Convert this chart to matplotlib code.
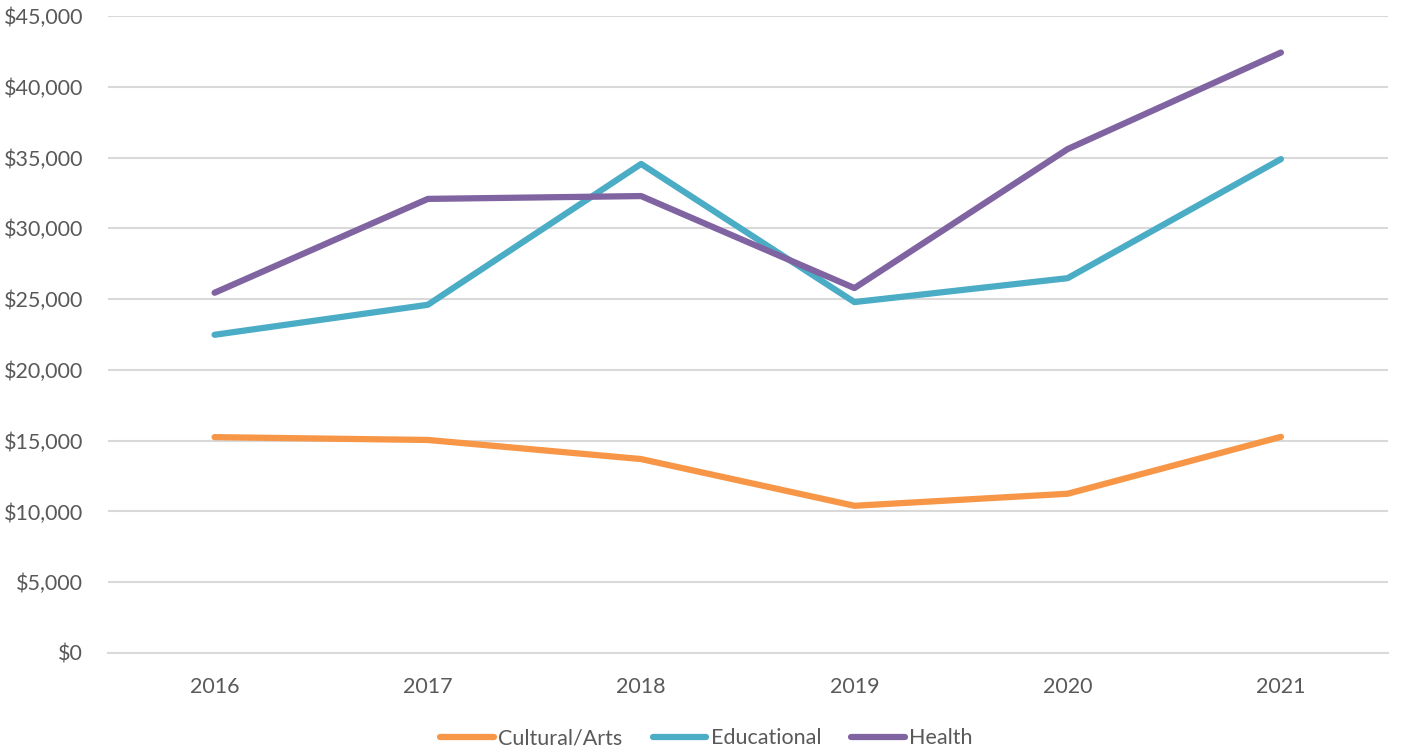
import matplotlib
matplotlib.use("Agg")
import matplotlib.pyplot as plt
from matplotlib.ticker import FuncFormatter

years = ["2016", "2017", "2018", "2019", "2020", "2021"]
cultural = [15250, 15050, 13700, 10400, 11250, 15270]
educational = [22480, 24600, 34550, 24790, 26480, 34890]
health = [25450, 32080, 32280, 25780, 35600, 42420]

plt.rcParams['font.family'] = ['Lato', 'DejaVu Sans']
grey = '#595959'

fig = plt.figure(figsize=(14.13, 7.55), dpi=100)
ax = fig.add_axes([0.0764, 0.1351, 0.982 - 0.0764, 0.9788 - 0.1351])

x = list(range(len(years)))
ax.plot(x, cultural, color='#F79646', lw=4.5, label='Cultural/Arts', solid_capstyle='round', solid_joinstyle='round')
ax.plot(x, educational, color='#4BACC6', lw=4.5, label='Educational', solid_capstyle='round', solid_joinstyle='round')
ax.plot(x, health, color='#8064A2', lw=4.5, label='Health', solid_capstyle='round', solid_joinstyle='round')

ax.set_xlim(-0.5, 5.5)
ax.set_ylim(0, 45000)
ax.set_yticks(range(0, 45001, 5000))
ax.yaxis.set_major_formatter(FuncFormatter(lambda v, p: f"${int(v):,}"))
ax.set_xticks(x)
ax.set_xticklabels(years)
ax.grid(axis='y', color='#D9D9D9', lw=1.5)
ax.set_axisbelow(True)
for s in ['top', 'right', 'left']:
    ax.spines[s].set_visible(False)
ax.spines['bottom'].set_color('#D9D9D9')
ax.spines['bottom'].set_linewidth(1.5)
ax.tick_params(axis='both', length=0, labelsize=15.5, labelcolor=grey)
ax.tick_params(axis='x', pad=17)
ax.tick_params(axis='y', pad=18)

leg = fig.legend(loc='center', bbox_to_anchor=(0.5, 0.022), ncol=3, frameon=False,
                 fontsize=15.5, handlelength=2.5, columnspacing=1.4, handletextpad=0.2)
for t in leg.get_texts():
    t.set_color(grey)

fig.savefig('out.png', dpi=100)
